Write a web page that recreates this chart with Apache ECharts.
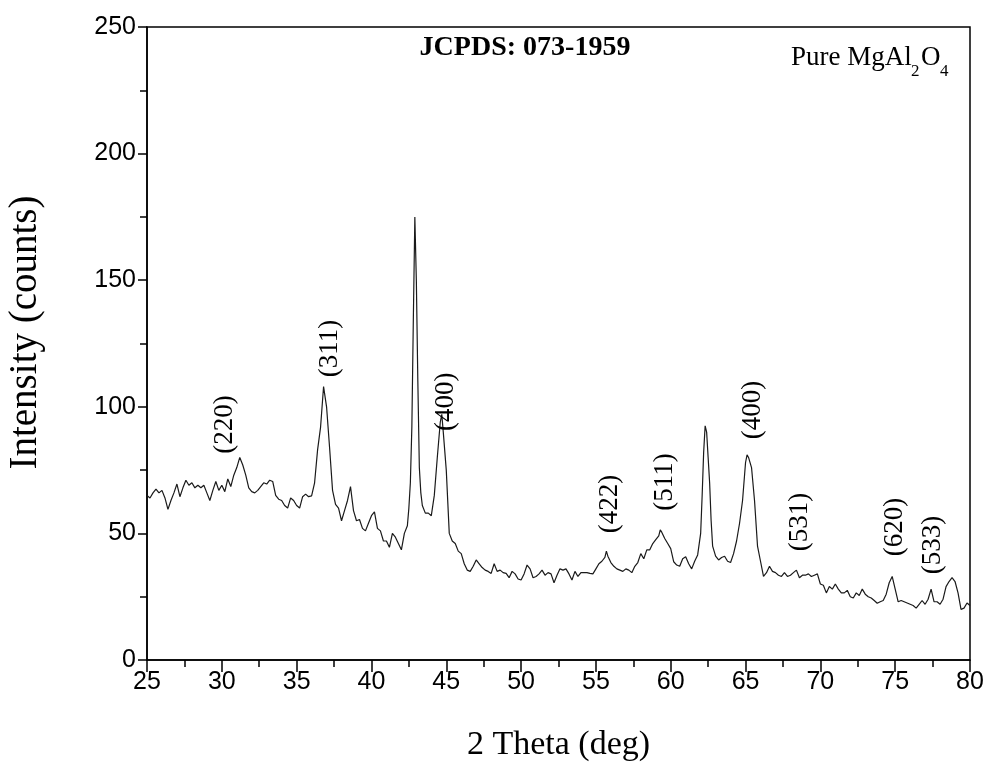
<!DOCTYPE html>
<html>
<head>
<meta charset="utf-8">
<script src="https://cdn.jsdelivr.net/npm/echarts@6/dist/echarts.min.js"></script>
<style>
  html, body { margin: 0; padding: 0; background: #fff; }
  #chart { width: 987px; height: 762px; }
</style>
</head>
<body>
<div id="chart"></div>
<script>
// XRD pattern
const twoTheta = [
  25.0, 25.2, 25.4, 25.6, 25.8, 26.0, 26.2, 26.4, 26.6, 26.8,
  27.0, 27.2, 27.4, 27.6, 27.8, 28.0, 28.2, 28.4, 28.6, 28.8,
  29.0, 29.2, 29.4, 29.6, 29.8, 30.0, 30.2, 30.4, 30.6, 30.8,
  31.0, 31.2, 31.4, 31.6, 31.8, 32.0, 32.2, 32.4, 32.6, 32.8,
  33.0, 33.2, 33.4, 33.6, 33.8, 34.0, 34.2, 34.4, 34.6, 34.8,
  35.0, 35.2, 35.4, 35.6, 35.8, 36.0, 36.2, 36.4, 36.6, 36.8,
  37.0, 37.2, 37.4, 37.6, 37.8, 38.0, 38.2, 38.4, 38.6, 38.8,
  39.0, 39.2, 39.4, 39.6, 39.8, 40.0, 40.2, 40.4, 40.6, 40.8,
  41.0, 41.2, 41.4, 41.6, 41.8, 42.0, 42.2, 42.4, 42.5, 42.6,
  42.7, 42.8, 42.9, 43.0, 43.1, 43.2, 43.3, 43.4, 43.6, 43.8,
  44.0, 44.2, 44.4, 44.6, 44.7, 44.8, 45.0, 45.2, 45.4, 45.6,
  45.8, 46.0, 46.2, 46.4, 46.6, 46.8, 47.0, 47.2, 47.4, 47.6,
  47.8, 48.0, 48.2, 48.4, 48.6, 48.8, 49.0, 49.2, 49.4, 49.6,
  49.8, 50.0, 50.2, 50.4, 50.6, 50.8, 51.0, 51.2, 51.4, 51.6,
  51.8, 52.0, 52.2, 52.4, 52.6, 52.8, 53.0, 53.2, 53.4, 53.6,
  53.8, 54.0, 54.2, 54.4, 54.6, 54.8, 55.0, 55.2, 55.4, 55.6,
  55.7, 55.8, 56.0, 56.2, 56.4, 56.6, 56.8, 57.0, 57.2, 57.4,
  57.6, 57.8, 58.0, 58.2, 58.4, 58.6, 58.8, 59.0, 59.2, 59.3,
  59.4, 59.6, 59.8, 60.0, 60.2, 60.4, 60.6, 60.8, 61.0, 61.2,
  61.4, 61.6, 61.8, 62.0, 62.1, 62.2, 62.3, 62.4, 62.5, 62.6,
  62.7, 62.8, 63.0, 63.2, 63.4, 63.6, 63.8, 64.0, 64.2, 64.4,
  64.6, 64.8, 65.0, 65.1, 65.2, 65.4, 65.6, 65.8, 66.0, 66.2,
  66.4, 66.6, 66.8, 67.0, 67.2, 67.4, 67.6, 67.8, 68.0, 68.2,
  68.4, 68.6, 68.8, 69.0, 69.2, 69.4, 69.6, 69.8, 70.0, 70.2,
  70.4, 70.6, 70.8, 71.0, 71.2, 71.4, 71.6, 71.8, 72.0, 72.2,
  72.4, 72.6, 72.8, 73.0, 73.2, 73.4, 73.6, 73.8, 74.0, 74.2,
  74.4, 74.6, 74.8, 75.0, 75.2, 75.4, 75.6, 75.8, 76.0, 76.2,
  76.4, 76.6, 76.8, 77.0, 77.2, 77.4, 77.6, 77.8, 78.0, 78.2,
  78.4, 78.6, 78.8, 79.0, 79.2, 79.4, 79.6, 79.8, 80.0
];
const counts = [
  65, 64, 66, 67.5, 66, 67, 64, 59.5, 63, 66,
  69.5, 64.5, 68, 71, 69, 70, 68, 69, 68, 69,
  66, 63, 67, 70.5, 67, 69, 66.5, 71.5, 68.5, 73,
  76, 80, 77, 73, 68, 66.5, 66, 67, 68.5, 70,
  69.5, 71, 70.5, 65, 63.5, 63, 61, 60, 64, 63,
  61, 60, 64.5, 65.5, 64.5, 64.8, 70, 83, 92, 108,
  100, 84, 67, 61.5, 60, 55, 59, 63, 68.5, 59,
  55, 55.5, 52, 51, 54, 57, 58.5, 52, 51, 47,
  47, 44.5, 50, 48.5, 46, 43.5, 50, 53, 60, 70,
  92, 135, 175, 150, 110, 76, 66, 61, 58, 58,
  57, 65, 80, 94, 97, 90, 75, 50, 47, 46,
  43, 42, 38, 35.5, 35, 37, 39.5, 38, 36.5, 35.5,
  35, 34.2, 38, 35, 35.5, 34.5, 34.2, 32.5, 35, 34,
  32, 31.6, 34, 37.5, 36, 32.5, 33, 34, 35.5, 33.5,
  34.5, 34, 30.5, 33.5, 36, 35.5, 36, 34, 31.6, 35,
  33, 34.5, 34.5, 34.5, 34.2, 34, 36, 38, 39, 40.5,
  43, 41, 38.5, 37, 36, 35.5, 35, 36, 35.5, 34.5,
  37, 38.5, 42, 40, 43.5, 43.5, 46, 47.5, 49, 51.4,
  50.5, 48, 46, 44, 38.8, 37.5, 37, 40, 40.8, 38,
  36, 39, 41.5, 50, 65, 82, 92.5, 90, 80, 70,
  55, 45, 41, 39.5, 40.5, 41, 39, 38.5, 42, 47,
  54, 63, 78, 81, 80, 76, 63, 45, 39, 33,
  34.5, 37, 35, 34.5, 33.5, 33, 34.5, 33, 33.5, 34.5,
  35.5, 32.5, 33.5, 33.5, 34, 33, 33.5, 34, 30, 29.5,
  26.5, 29, 28, 30, 28, 26.5, 26.5, 27.5, 25, 24.5,
  26.5, 25.5, 28, 26, 25, 24.5, 23.5, 22.4, 23, 23.5,
  26, 30.5, 33, 28, 23, 23.5, 23, 22.5, 22, 21.5,
  20.5, 22, 23.5, 22, 24, 28, 23, 23, 22, 24,
  29, 31, 32.5, 31, 26.5, 20, 20.5, 22.5, 21.5
];

// Miller index labels
const peakLabels = ['(220)', '(311)', '(400)', '(422)', '(511)', '(400)', '(531)', '(620)', '(533)'];
const peakX = [30.2, 37.2, 45.0, 55.95, 59.6, 65.5, 68.65, 75.0, 77.55];
const peakY = [93, 123, 102, 61.6, 70.3, 98.7, 54.5, 52.5, 45.4];

const xTicks = { min: 25, max: 80, step: 5 };
const yTicks = { min: 0, max: 250, step: 50 };

const serif = "'Liberation Serif', 'Times New Roman', serif";
const sans = "'Liberation Sans', Arial, sans-serif";

const chart = echarts.init(document.getElementById('chart'), null, { renderer: 'canvas' });

const option = {
  backgroundColor: '#fff',
  animation: false,
  grid: {
    left: 147,
    right: 17,
    top: 27,
    bottom: 102,
    outerBoundsMode: 'none',
    show: true,
    borderColor: '#000',
    borderWidth: 1.5,
    backgroundColor: 'transparent'
  },
  xAxis: {
    type: 'value',
    min: xTicks.min,
    max: xTicks.max,
    interval: xTicks.step,
    name: '2 Theta (deg)',
    nameLocation: 'middle',
    nameGap: 68,
    nameTextStyle: { fontFamily: serif, fontSize: 34, color: '#000' },
    axisLine: { show: true, onZero: false, lineStyle: { color: '#000', width: 1.5 } },
    axisTick: { show: true, inside: false, length: 12, lineStyle: { color: '#000', width: 1.5 } },
    minorTick: { show: true, splitNumber: 2, length: 7, lineStyle: { color: '#000', width: 1.5 } },
    axisLabel: { fontFamily: sans, fontSize: 25, color: '#000', margin: 10 },
    splitLine: { show: false }
  },
  yAxis: {
    type: 'value',
    min: yTicks.min,
    max: yTicks.max,
    interval: yTicks.step,
    name: 'Intensity (counts)',
    nameLocation: 'middle',
    nameGap: 102,
    nameTextStyle: { fontFamily: serif, fontSize: 39, color: '#000', padding: [0, 0, 0, 22] },
    axisLine: { show: true, onZero: false, lineStyle: { color: '#000', width: 1.5 } },
    axisTick: { show: true, inside: false, length: 9, lineStyle: { color: '#000', width: 1.5 } },
    minorTick: { show: true, splitNumber: 2, length: 7, lineStyle: { color: '#000', width: 1.5 } },
    axisLabel: { fontFamily: sans, fontSize: 25, color: '#000', margin: 11 },
    splitLine: { show: false }
  },
  graphic: [
    {
      type: 'text', x: 525, y: 48,
      style: { text: 'JCPDS: 073-1959', fontFamily: serif, fontSize: 28, fontWeight: 'bold', fill: '#000', textAlign: 'center', textVerticalAlign: 'middle' }
    },
    { type: 'text', x: 791, y: 71, style: { text: 'Pure MgAl', fontFamily: serif, fontSize: 27, fill: '#000', textAlign: 'left', textVerticalAlign: 'bottom' } },
    { type: 'text', x: 911, y: 80, style: { text: '2', fontFamily: serif, fontSize: 17, fill: '#000', textAlign: 'left', textVerticalAlign: 'bottom' } },
    { type: 'text', x: 921, y: 71, style: { text: 'O', fontFamily: serif, fontSize: 27, fill: '#000', textAlign: 'left', textVerticalAlign: 'bottom' } },
    { type: 'text', x: 940, y: 80, style: { text: '4', fontFamily: serif, fontSize: 17, fill: '#000', textAlign: 'left', textVerticalAlign: 'bottom' } }
  ],
  series: [
    {
      type: 'line',
      data: twoTheta.map((t, i) => [t, counts[i]]),
      showSymbol: false,
      symbol: 'none',
      lineStyle: { color: '#1a1a1a', width: 1.2 },
      z: 3
    },
    {
      type: 'scatter',
      data: peakX.map((t, i) => [t, peakY[i], peakLabels[i]]),
      symbolSize: 0,
      itemStyle: { color: '#000', opacity: 1 },
      label: {
        show: true,
        position: 'inside',
        rotate: 90,
        formatter: p => p.value[2],
        fontFamily: serif,
        fontSize: 27,
        color: '#000',
        opacity: 1,
        textBorderWidth: 0,
        textBorderColor: 'transparent'
      },
      silent: true,
      z: 4
    }
  ]
};

chart.setOption(option);
</script>
</body>
</html>
